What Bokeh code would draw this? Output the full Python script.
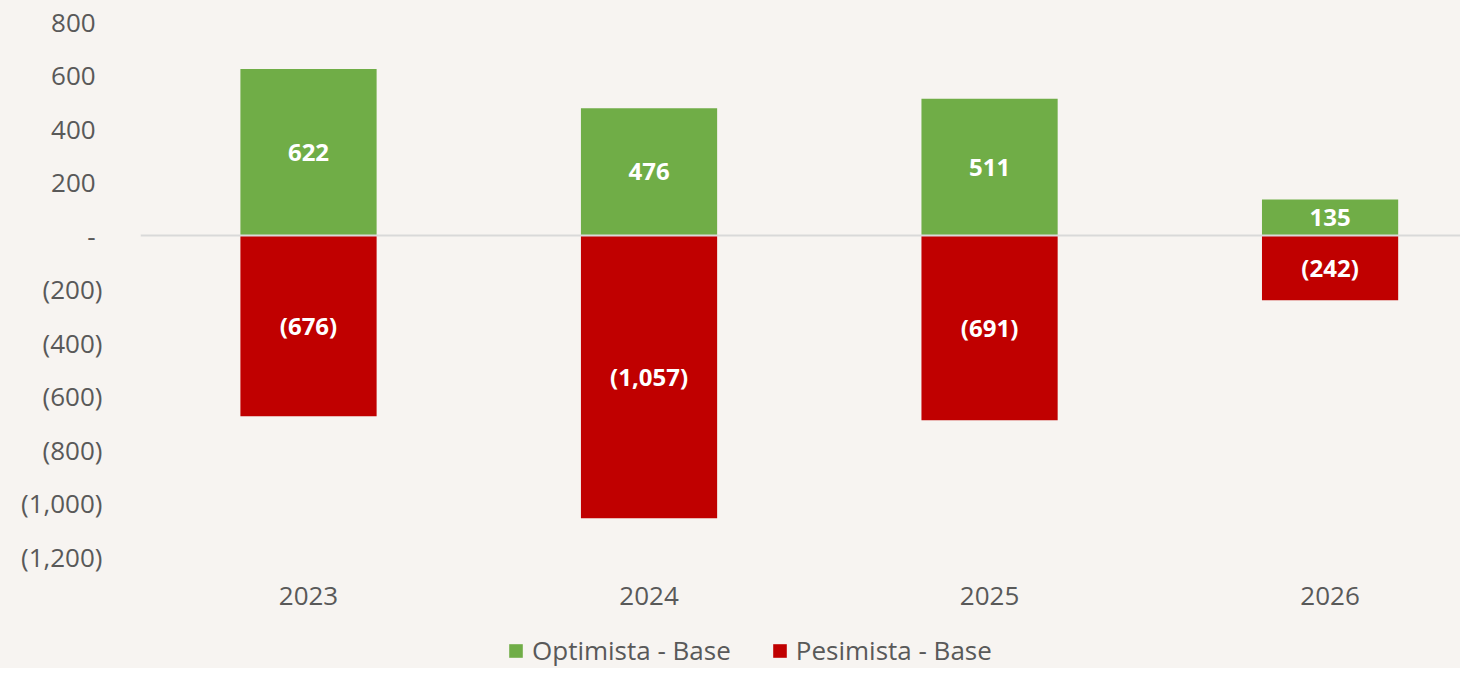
from bokeh.plotting import figure
from bokeh.layouts import column
from bokeh.models import (Range1d, FixedTicker, Span, Legend, LegendItem,
                          ColumnDataSource)
from bokeh.core.properties import value
from bokeh.embed import file_html
from bokeh.resources import INLINE

# ---- data ----
years = ["2023", "2024", "2025", "2026"]
optimista = [622, 476, 511, 135]
pesimista = [-676, -1057, -691, -242]
y_ticks = [800, 600, 400, 200, 0, -200, -400, -600, -800, -1000, -1200]
series_names = ["Optimista - Base", "Pesimista - Base"]

GREEN = "#70AD47"
RED = "#C00000"
BG = "#F7F4F1"
TXT = "#595959"
FONT = "Open Sans"


def fmt(v):
    if v == 0:
        return "-\u2008"
    if v < 0:
        return "({:,})".format(-v)
    return "{:,}\u2008".format(v)


xs = list(range(len(years)))

src_o = ColumnDataSource(dict(x=xs, top=optimista, bottom=[0] * len(xs),
                              ymid=[v / 2 for v in optimista],
                              lab=[fmt(v).strip("\u2008") for v in optimista]))
src_p = ColumnDataSource(dict(x=xs, top=[0] * len(xs), bottom=pesimista,
                              ymid=[v / 2 for v in pesimista],
                              lab=[fmt(v) for v in pesimista]))

p = figure(frame_width=1320, frame_height=535,
           output_backend="svg", toolbar_location=None,
           x_range=Range1d(-0.4934, 3.383), y_range=Range1d(-1200, 800),
           background_fill_color=BG, border_fill_color=BG,
           min_border_top=21, min_border_left=140, min_border_right=0,
           min_border_bottom=70)
p.outline_line_color = None
p.grid.visible = False

r_o = p.vbar(x="x", top="top", bottom="bottom", width=0.4, source=src_o,
             fill_color=GREEN, line_color=None)
r_p = p.vbar(x="x", top="top", bottom="bottom", width=0.4, source=src_p,
             fill_color=RED, line_color=None)

p.add_layout(Span(location=0, dimension="width", line_color="#D9D9D9",
                  line_width=2))

for s in (src_o, src_p):
    p.text(x="x", y="ymid", text="lab", source=s, text_color="white",
           text_font=value(FONT), text_font_style="bold",
           text_font_size="24px", text_align="center",
           text_baseline="middle")

# axes
ya = p.yaxis[0]
ya.ticker = FixedTicker(ticks=y_ticks)
ya.major_label_overrides = {v: fmt(v) for v in y_ticks}
ya.axis_line_color = None
ya.major_tick_line_color = None
ya.minor_tick_line_color = None
ya.major_label_text_font = FONT
ya.major_label_text_font_size = "26px"
ya.major_label_text_color = TXT
ya.major_label_standoff = 32

xa = p.xaxis[0]
xa.ticker = FixedTicker(ticks=xs)
xa.major_label_overrides = {i: y for i, y in zip(xs, years)}
xa.axis_line_color = None
xa.major_tick_line_color = None
xa.minor_tick_line_color = None
xa.major_label_text_font = FONT
xa.major_label_text_font_size = "26px"
xa.major_label_text_color = TXT
xa.major_label_standoff = 24

# ---- legend strip (separate small figure) ----
lf = figure(width=1460, height=42, output_backend="svg", toolbar_location=None,
            x_axis_type=None, y_axis_type=None,
            x_range=Range1d(0, 1), y_range=Range1d(0, 1),
            background_fill_color=BG, border_fill_color=BG,
            min_border=0)
lf.outline_line_color = None
lf.grid.visible = False
# zero-height placeholder bars: only their legend swatches are visible
swatch = dict(x=[0], top=[0], bottom=[0])
lr_o = lf.vbar(x="x", top="top", bottom="bottom", width=0.01,
               source=ColumnDataSource(swatch), fill_color=GREEN,
               line_color=None)
lr_p = lf.vbar(x="x", top="top", bottom="bottom", width=0.01,
               source=ColumnDataSource(swatch), fill_color=RED,
               line_color=None)
legend = Legend(items=[LegendItem(label=series_names[0], renderers=[lr_o]),
                       LegendItem(label=series_names[1], renderers=[lr_p])],
                orientation="horizontal", location=(367, 0),
                background_fill_alpha=0, border_line_color=None,
                label_text_font=FONT, label_text_font_size="26px",
                label_text_color=TXT, glyph_width=17, glyph_height=17,
                label_standoff=8, spacing=40, padding=0, margin=0)
lf.add_layout(legend)

layout = column(p, lf, spacing=0, styles={"background-color": BG})
open("out.html", "w").write(file_html(layout, INLINE))
